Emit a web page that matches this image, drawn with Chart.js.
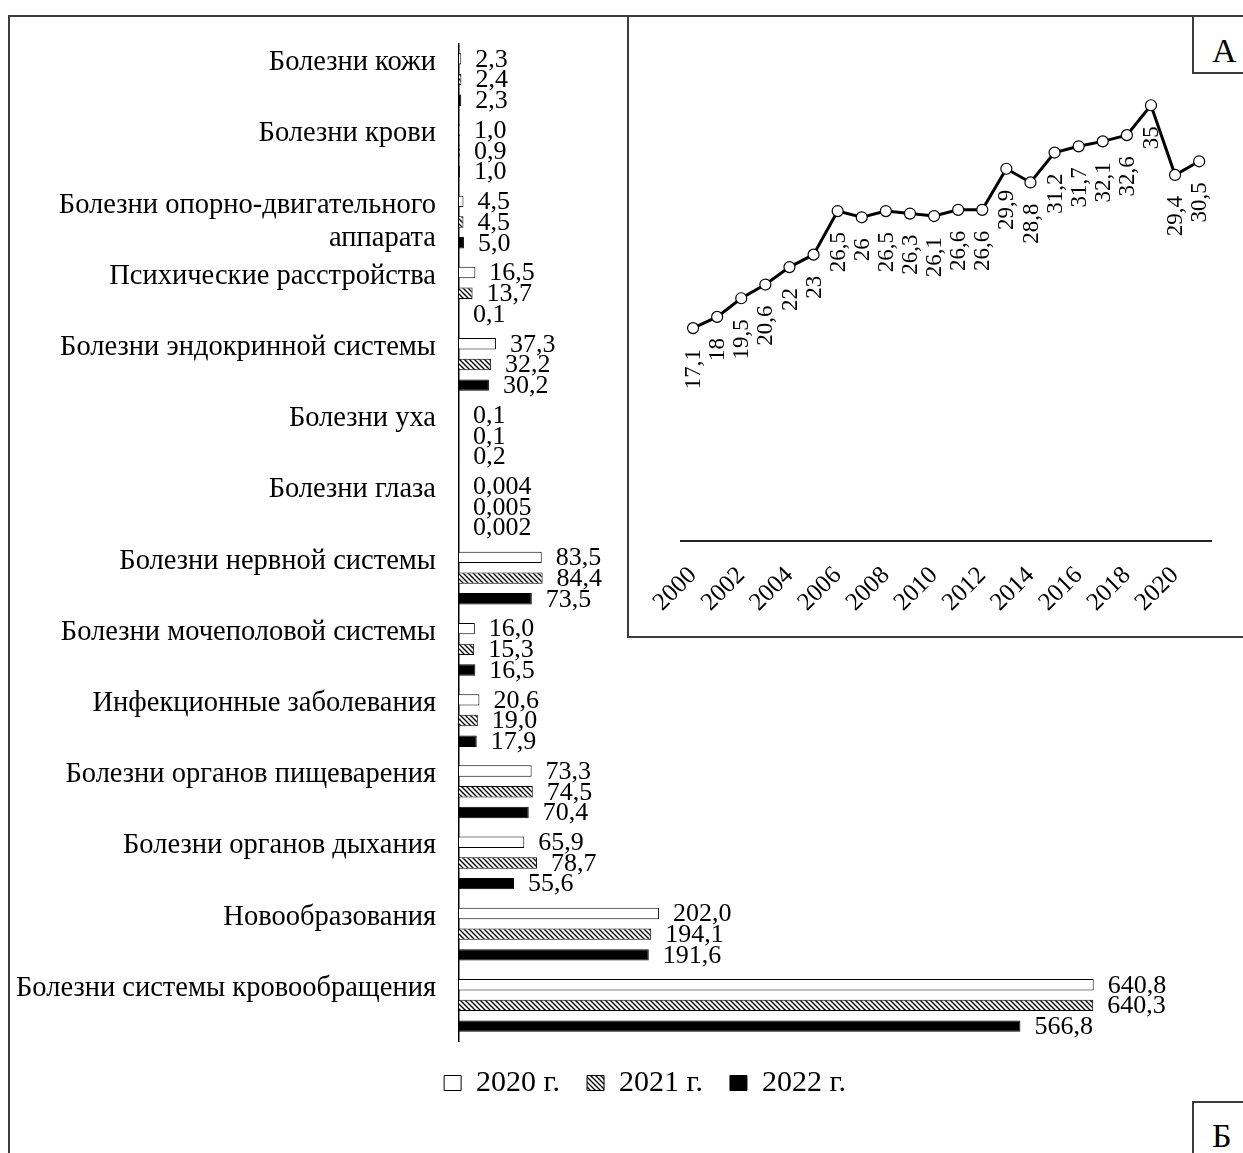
<!DOCTYPE html>
<html><head><meta charset="utf-8">
<script src="https://cdn.jsdelivr.net/npm/chart.js@4.4.1/dist/chart.umd.min.js"></script>
<style>
html,body{margin:0;padding:0;background:#fff;width:1243px;height:1153px;overflow:hidden;position:relative;font-family:"Liberation Serif","Times New Roman",serif;}
#bars{position:absolute;left:0;top:0;}
#frame{position:absolute;left:8px;top:15px;width:1300px;height:1300px;border:2px solid #3c3c3c;box-sizing:border-box;}
#inset{position:absolute;left:627px;top:15px;width:700px;height:623px;border:2px solid #3c3c3c;box-sizing:border-box;background:#fff;}
#line{position:absolute;left:630px;top:18px;}
.tag{position:absolute;border:2px solid #3c3c3c;box-sizing:border-box;background:#fff;font-size:34px;color:#000;line-height:1;}
#tagA{left:1192px;top:15px;width:80px;height:59px;padding:17px 0 0 18px;}
#tagB{left:1192px;top:1101px;width:80px;height:80px;padding:16px 0 0 18px;}
</style></head>
<body>
<canvas id="bars" width="1290" height="1153"></canvas>
<div id="frame"></div>
<div id="inset"></div>
<canvas id="line" width="611" height="617"></canvas>
<div class="tag" id="tagA">А</div>
<div class="tag" id="tagB">Б</div>
<script>
// ---- Panel Б: bar chart data ----
const categories = [
  'Болезни кожи',
  'Болезни крови',
  ['', 'Болезни опорно-двигательного', 'аппарата'],
  'Психические расстройства',
  'Болезни эндокринной системы',
  'Болезни уха',
  'Болезни глаза',
  'Болезни нервной системы',
  'Болезни мочеполовой системы',
  'Инфекционные заболевания',
  'Болезни органов пищеварения',
  'Болезни органов дыхания',
  'Новообразования',
  'Болезни системы кровообращения'
];
const seriesNames = ['2020 г.', '2021 г.', '2022 г.'];
const values2020 = [2.3, 1.0, 4.5, 16.5, 37.3, 0.1, 0.004, 83.5, 16.0, 20.6, 73.3, 65.9, 202.0, 640.8];
const values2021 = [2.4, 0.9, 4.5, 13.7, 32.2, 0.1, 0.005, 84.4, 15.3, 19.0, 74.5, 78.7, 194.1, 640.3];
const values2022 = [2.3, 1.0, 5.0, 0.1, 30.2, 0.2, 0.002, 73.5, 16.5, 17.9, 70.4, 55.6, 191.6, 566.8];

// ---- Panel А: line chart data ----
const years = [2000, 2001, 2002, 2003, 2004, 2005, 2006, 2007, 2008, 2009, 2010,
               2011, 2012, 2013, 2014, 2015, 2016, 2017, 2018, 2019, 2020, 2021];
const rates = [17.1, 18, 19.5, 20.6, 22, 23, 26.5, 26, 26.5, 26.3, 26.1,
               26.6, 26.6, 29.9, 28.8, 31.2, 31.7, 32.1, 32.6, 35, 29.4, 30.5];

const FONT = '"Liberation Serif", "Times New Roman", serif';

function makeHatch() {
  const s = 5;
  const c = document.createElement('canvas');
  c.width = s; c.height = s;
  const g = c.getContext('2d');
  g.fillStyle = '#fff';
  g.fillRect(0, 0, s, s);
  g.strokeStyle = '#000';
  g.lineWidth = 1.4;
  g.beginPath();
  g.moveTo(-1, -1); g.lineTo(s + 1, s + 1);
  g.moveTo(-1, s - 1); g.lineTo(1, s + 1);
  g.moveTo(s - 1, -1); g.lineTo(s + 1, 1);
  g.stroke();
  return g.createPattern(c, 'repeat');
}

function fmtBar(v) {
  return (v < 0.05 ? v.toFixed(3) : v.toFixed(1)).replace('.', ',');
}
function fmtRate(v) {
  return String(v).replace('.', ',');
}

const barValueLabels = {
  id: 'barValueLabels',
  afterDatasetsDraw(chart) {
    const ctx = chart.ctx;
    ctx.save();
    ctx.font = '26px ' + FONT;
    ctx.fillStyle = '#000';
    ctx.textAlign = 'left';
    ctx.textBaseline = 'middle';
    chart.data.datasets.forEach((ds, di) => {
      chart.getDatasetMeta(di).data.forEach((bar, i) => {
        ctx.fillText(fmtBar(ds.data[i]), bar.x + 14, bar.y + 1);
      });
    });
    ctx.restore();
  }
};

const pointValueLabels = {
  id: 'pointValueLabels',
  afterDatasetsDraw(chart) {
    const ctx = chart.ctx;
    ctx.save();
    ctx.font = '23px ' + FONT;
    ctx.fillStyle = '#000';
    ctx.textAlign = 'right';
    ctx.textBaseline = 'middle';
    const ds = chart.data.datasets[0];
    chart.getDatasetMeta(0).data.forEach((pt, i) => {
      ctx.save();
      ctx.translate(pt.x + 1, pt.y + 21);
      ctx.rotate(-Math.PI / 2);
      ctx.fillText(fmtRate(ds.data[i]), 0, 0);
      ctx.restore();
    });
    ctx.restore();
  }
};

const hatch = makeHatch();

new Chart(document.getElementById('bars'), {
  type: 'bar',
  data: {
    labels: categories,
    datasets: [
      { label: seriesNames[0], data: values2020, backgroundColor: '#fff', borderColor: '#000', borderWidth: 1 },
      { label: seriesNames[1], data: values2021, backgroundColor: hatch, borderColor: '#000', borderWidth: 1 },
      { label: seriesNames[2], data: values2022, backgroundColor: '#000', borderColor: '#000', borderWidth: 1 }
    ]
  },
  options: {
    indexAxis: 'y',
    responsive: false,
    animation: false,
    events: [],
    categoryPercentage: 0.872,
    barPercentage: 0.55,
    layout: { padding: { left: 0, right: 0, top: 44, bottom: 45 } },
    plugins: {
      tooltip: { enabled: false },
      legend: {
        position: 'bottom',
        labels: {
          font: { family: FONT, size: 30 },
          color: '#000',
          boxWidth: 17,
          boxHeight: 15,
          padding: 27
        }
      }
    },
    scales: {
      x: { display: false, min: 0, max: 839 },
      y: {
        grid: { display: false, drawTicks: false },
        border: { display: true, color: '#000', width: 1.5 },
        ticks: {
          color: '#000',
          font: { family: FONT, size: 28.5, lineHeight: 1.16 },
          padding: 23,
          labelOffset: -17,
          autoSkip: false
        },
        afterFit(scale) { scale.width = 459; }
      }
    }
  },
  plugins: [barValueLabels]
});

new Chart(document.getElementById('line'), {
  type: 'line',
  data: {
    labels: years,
    datasets: [{
      data: rates,
      borderColor: '#000',
      borderWidth: 3,
      tension: 0,
      pointRadius: 5.5,
      pointBackgroundColor: '#fff',
      pointBorderColor: '#000',
      pointBorderWidth: 1.2
    }]
  },
  options: {
    responsive: false,
    animation: false,
    events: [],
    layout: { padding: { left: 51, right: 27, top: 25, bottom: 0 } },
    plugins: { legend: { display: false }, tooltip: { enabled: false } },
    scales: {
      x: {
        offset: true,
        grid: { display: false, drawTicks: false },
        border: { display: true, color: '#222', width: 2 },
        ticks: {
          autoSkip: false,
          minRotation: 45,
          maxRotation: 45,
          padding: 20,
          color: '#000',
          font: { family: FONT, size: 25 },
          callback: (v, i) => (i % 2 === 0 ? String(years[i]) : '')
        },
        afterFit(scale) { scale.height = 94; }
      },
      y: { display: false, min: 0, max: 40 }
    }
  },
  plugins: [pointValueLabels]
});
</script>
</body></html>
